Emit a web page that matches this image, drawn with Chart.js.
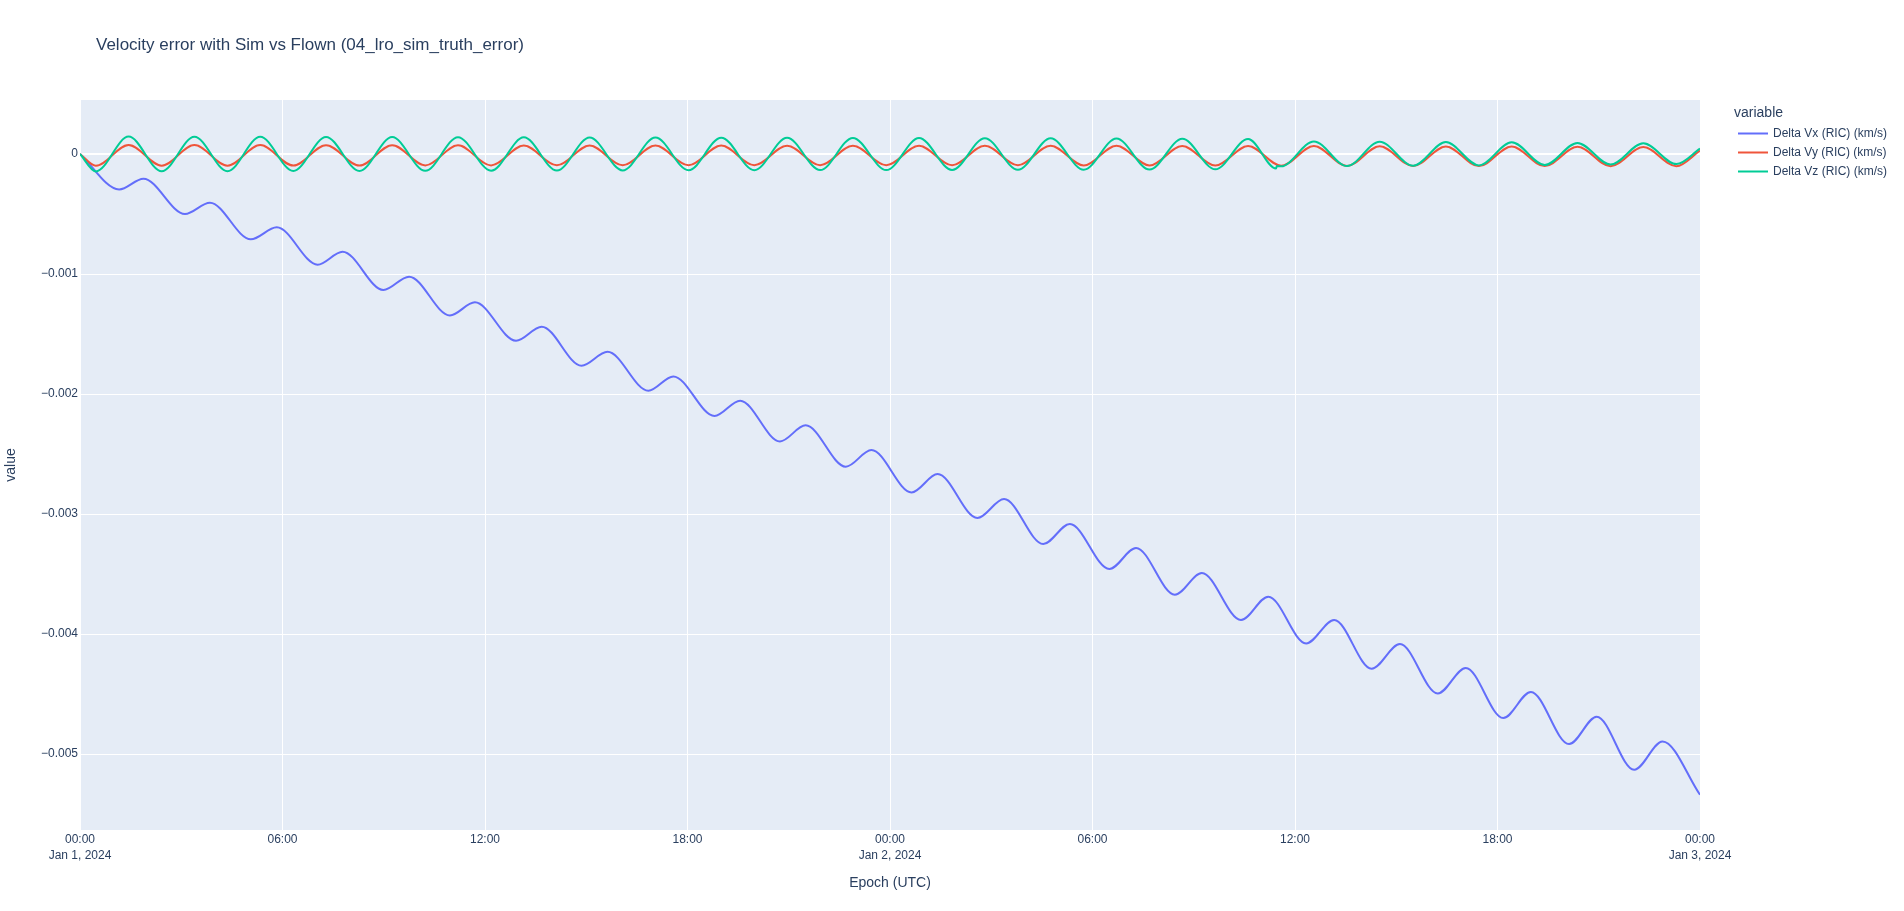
<!DOCTYPE html>
<html>
<head>
<meta charset="utf-8">
<title>Velocity error with Sim vs Flown</title>
<script src="https://cdn.jsdelivr.net/npm/chart.js@4.4.1/dist/chart.umd.min.js"></script>
<style>
  html, body { margin: 0; padding: 0; background: #fff; }
  #chart { display: block; }
</style>
</head>
<body>
<canvas id="chart" width="1904" height="911"></canvas>
<script>
var chartTitle = 'Velocity error with Sim vs Flown (04_lro_sim_truth_error)';
var legendTitle = 'variable';
var seriesNames = ['Delta Vx (RIC) (km/s)', 'Delta Vy (RIC) (km/s)', 'Delta Vz (RIC) (km/s)'];
var seriesColors = ['#636efa', '#ef553b', '#00cc96'];

// x values are hours since 2024-01-01 00:00 UTC, read at the turning points of each curve
var vxHours = [0, 1.16, 1.88, 3.11, 3.85, 5.06, 5.83, 7.04, 7.78, 8.99, 9.75, 10.96, 11.70,
  12.92, 13.68, 14.86, 15.63, 16.84, 17.58, 18.80, 19.56, 20.74, 21.50, 22.69, 23.45,
  24.64, 25.41, 26.59, 27.38, 28.54, 29.33, 30.50, 31.29, 32.44, 33.24, 34.40, 35.21,
  36.33, 37.16, 38.27, 39.11, 40.23, 41.06, 42.17, 42.99, 44.12, 44.94, 46.05, 46.89, 48.00];
var vxValues = [0, -0.000295, -0.000206, -0.000500, -0.000406, -0.000711, -0.000611, -0.000922, -0.000814,
  -0.001133, -0.001022, -0.001345, -0.001236, -0.001556, -0.001439, -0.001764, -0.001648,
  -0.001972, -0.001853, -0.002183, -0.002056, -0.002395, -0.002261, -0.002606, -0.002467,
  -0.002820, -0.002667, -0.003033, -0.002875, -0.003250, -0.003083, -0.003458, -0.003283,
  -0.003672, -0.003492, -0.003883, -0.003689, -0.004078, -0.003883, -0.004289, -0.004083,
  -0.004495, -0.004283, -0.004700, -0.004483, -0.004917, -0.004689, -0.005131, -0.004895, -0.005339];

var vyHours = [0, 0.47, 1.44, 2.42, 3.39, 4.37, 5.34, 6.32, 7.29, 8.28, 9.25, 10.23, 11.20, 12.18,
  13.15, 14.13, 15.10, 16.08, 17.05, 18.03, 19.00, 19.98, 20.95, 21.93, 22.90, 23.89, 24.86,
  25.84, 26.81, 27.79, 28.76, 29.74, 30.71, 31.69, 32.66, 33.64, 34.61, 35.59, 36.56, 37.54,
  38.51, 39.50, 40.47, 41.45, 42.42, 43.40, 44.37, 45.35, 46.32, 47.30, 48.00];
var vyValues = [0, -0.000098, 0.000075, -0.000097, 0.000074, -0.000097, 0.000074, -0.000096, 0.000073,
  -0.000096, 0.000073, -0.000095, 0.000072, -0.000095, 0.000071, -0.000094, 0.000071,
  -0.000094, 0.000070, -0.000094, 0.000070, -0.000093, 0.000069, -0.000093, 0.000069,
  -0.000093, 0.000069, -0.000094, 0.000068, -0.000094, 0.000068, -0.000095, 0.000068,
  -0.000095, 0.000067, -0.000096, 0.000067, -0.000098, 0.000066, -0.000100, 0.000064,
  -0.000100, 0.000063, -0.000101, 0.000062, -0.000101, 0.000060, -0.000102, 0.000058,
  -0.000102, 0.000028];

var vzHours = [0, 0.47, 1.44, 2.42, 3.39, 4.37, 5.34, 6.32, 7.29, 8.28, 9.25, 10.23, 11.20, 12.18,
  13.15, 14.13, 15.10, 16.08, 17.05, 18.03, 19.00, 19.98, 20.95, 21.93, 22.90, 23.89, 24.86,
  25.84, 26.81, 27.79, 28.76, 29.74, 30.71, 31.69, 32.66, 33.64, 34.61, 35.44, 35.46, 35.59,
  36.56, 37.54, 38.51, 39.50, 40.47, 41.45, 42.42, 43.40, 44.37, 45.35, 46.32, 47.30, 48.00];
var vzValues = [0, -0.000145, 0.000145, -0.000144, 0.000144, -0.000143, 0.000143, -0.000142, 0.000142,
  -0.000141, 0.000141, -0.000140, 0.000140, -0.000139, 0.000139, -0.000138, 0.000138,
  -0.000137, 0.000137, -0.000136, 0.000136, -0.000135, 0.000135, -0.000134, 0.000134,
  -0.000134, 0.000133, -0.000133, 0.000132, -0.000132, 0.000131, -0.000131, 0.000129,
  -0.000130, 0.000127, -0.000128, 0.000125, -0.000121, -0.000101, -0.000103, 0.000105,
  -0.000101, 0.000103, -0.000098, 0.000099, -0.000095, 0.000097, -0.000092, 0.000092,
  -0.000088, 0.000089, -0.000084, 0.000045];

var xTickHours = [0, 6, 12, 18, 24, 30, 36, 42, 48];
var dayLabels = { 0: 'Jan 1, 2024', 24: 'Jan 2, 2024', 48: 'Jan 3, 2024' };
var yTickValues = [0, -0.001, -0.002, -0.003, -0.004, -0.005];

var textColor = '#2a3f5f';
var fontFamily = '"Liberation Sans", Arial, sans-serif';

function points(hours, values) {
  return hours.map(function (h, i) { return { x: h, y: values[i] }; });
}

function makeDataset(i, hours, values) {
  return {
    label: seriesNames[i],
    data: points(hours, values),
    borderColor: seriesColors[i],
    backgroundColor: seriesColors[i],
    borderWidth: 2,
    pointRadius: 0,
    cubicInterpolationMode: 'monotone',
    order: 2 - i
  };
}

// plot background, title and legend, placed like the plotly original
var plotlyLook = {
  id: 'plotlyLook',
  beforeDraw: function (chart) {
    var ctx = chart.ctx, a = chart.chartArea;
    ctx.save();
    ctx.fillStyle = '#ffffff';
    ctx.fillRect(0, 0, chart.width, chart.height);
    ctx.fillStyle = '#e5ecf6';
    ctx.fillRect(a.left, a.top, a.right - a.left, a.bottom - a.top);
    ctx.restore();
  },
  afterDraw: function (chart) {
    var ctx = chart.ctx;
    ctx.save();
    ctx.fillStyle = textColor;
    ctx.textBaseline = 'middle';
    ctx.font = '17px ' + fontFamily;
    ctx.fillText(chartTitle, 96, 45);

    ctx.font = '14px ' + fontFamily;
    ctx.fillText(legendTitle, 1734, 113.5);
    ctx.font = '12px ' + fontFamily;
    for (var i = 0; i < seriesNames.length; i++) {
      var y = 133.5 + i * 19;
      ctx.strokeStyle = seriesColors[i];
      ctx.lineWidth = 2;
      ctx.beginPath();
      ctx.moveTo(1738, y);
      ctx.lineTo(1768, y);
      ctx.stroke();
      ctx.fillText(seriesNames[i], 1773, y);
    }
    ctx.restore();
  }
};

var chart = new Chart(document.getElementById('chart'), {
  type: 'line',
  data: {
    datasets: [
      makeDataset(0, vxHours, vxValues),
      makeDataset(1, vyHours, vyValues),
      makeDataset(2, vzHours, vzValues)
    ]
  },
  options: {
    responsive: false,
    animation: false,
    layout: { padding: { top: 100, right: 204, bottom: 0, left: 0 } },
    plugins: {
      legend: { display: false },
      title: { display: false },
      tooltip: { enabled: false }
    },
    scales: {
      x: {
        type: 'linear',
        min: 0,
        max: 48,
        afterFit: function (scale) { scale.height = 81; },
        afterBuildTicks: function (scale) {
          scale.ticks = xTickHours.map(function (h) { return { value: h }; });
        },
        ticks: {
          autoSkip: false,
          maxRotation: 0,
          padding: 2,
          color: textColor,
          font: { family: fontFamily, size: 12, lineHeight: 1.3 },
          callback: function (v) {
            var hh = ('0' + (v % 24)).slice(-2) + ':00';
            return dayLabels[v] ? [hh, dayLabels[v]] : hh;
          }
        },
        grid: { color: '#ffffff', lineWidth: 1, drawTicks: false },
        border: { display: false },
        title: {
          display: true,
          text: 'Epoch (UTC)',
          color: textColor,
          font: { family: fontFamily, size: 14 },
          padding: { top: 4, bottom: 19 }
        }
      },
      y: {
        min: -0.005633,
        max: 0.00045,
        afterFit: function (scale) { scale.width = 80; },
        afterBuildTicks: function (scale) {
          scale.ticks = yTickValues.map(function (v) { return { value: v }; });
        },
        ticks: {
          padding: 2,
          color: textColor,
          font: { family: fontFamily, size: 12 },
          callback: function (v) {
            if (Math.abs(v) < 1e-12) return '0';
            return '\u2212' + Math.abs(v).toFixed(3);
          }
        },
        grid: {
          color: '#ffffff',
          drawTicks: false,
          lineWidth: function (c) { return c.tick && Math.abs(c.tick.value) < 1e-12 ? 2 : 1; }
        },
        border: { display: false },
        title: {
          display: true,
          text: 'value',
          color: textColor,
          font: { family: fontFamily, size: 14 },
          padding: { top: 3, bottom: 0 }
        }
      }
    }
  },
  plugins: [plotlyLook]
});
</script>
</body>
</html>
